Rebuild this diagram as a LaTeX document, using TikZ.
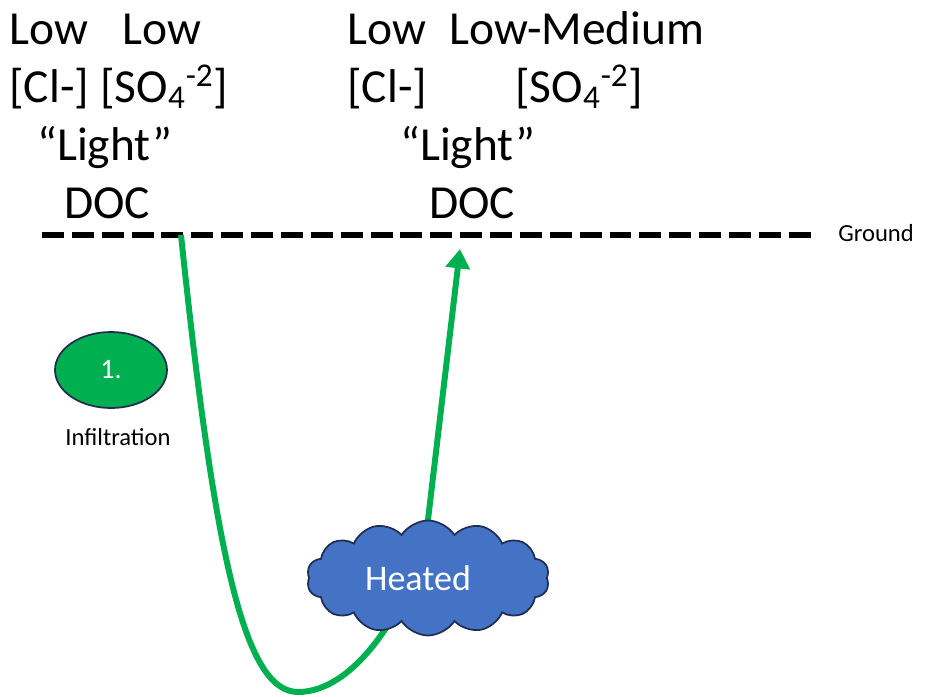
\documentclass[tikz,border=0pt]{standalone}
\usepackage{fontspec}
\setmainfont{Carlito}
\usetikzlibrary{positioning,calc,arrows.meta,shapes.geometric,shapes.symbols}
\definecolor{flowgreen}{RGB}{0,176,80}
\definecolor{heatblue}{RGB}{68,114,196}
\definecolor{edgenavy}{RGB}{32,46,84}

\begin{document}
\begin{tikzpicture}[x=0.02cm, y=-0.02cm,
    chem/.style={font=\fontsize{27}{32}\selectfont, inner sep=0pt, anchor=base west},
    small/.style={font=\fontsize{14}{17}\selectfont, inner sep=0pt},
    ground/.style={line width=3.2pt, dash pattern=on 12.5pt off 4.5pt},
    flow/.style={flowgreen, line width=3.4pt},
    stage/.style={ellipse, draw=edgenavy, line width=1pt, fill=flowgreen,
      minimum width=2.24cm, minimum height=1.52cm, inner sep=0pt,
      text=white, font=\fontsize{16}{19}\selectfont},
    heat/.style={cloud, cloud puffs=14, cloud puff arc=115, cloud ignores aspect,
      draw=edgenavy, line width=1pt, fill=heatblue,
      minimum width=4.85cm, minimum height=2.3cm},
    heattext/.style={text=white, font=\fontsize{20.5}{24}\selectfont, inner sep=0pt}
  ]
  \useasboundingbox (0,0) rectangle (925,696);
  % ---------------- recharge side ----------------
  \node[chem] (lowClA) at (9,45) {Low};
  \node[chem] (lowSOA) at (122,45) {Low};
  \node[chem] (clA) at (9,102) {[Cl-]};
  \node[chem] (soA) at (100,102) {[SO\textsubscript{4}\textsuperscript{-2}]};
  \node[chem] (lightA) at (37,160) {“Light”};
  \node[chem] (docA) at (64,218) {DOC};
  % ---------------- discharge side ----------------
  \node[chem] (lowClB) at (347,45) {Low};
  \node[chem] (lowSOB) at (449,45) {Low-Medium};
  \node[chem] (clB) at (347,102) {[Cl-]};
  \node[chem] (soB) at (515,102) {[SO\textsubscript{4}\textsuperscript{-2}]};
  \node[chem] (lightB) at (400,160) {“Light”};
  \node[chem] (docB) at (429,218) {DOC};
  % ---------------- ground surface ----------------
  \coordinate (gl) at (42,235);
  \coordinate (gr) at (818,235);
  \draw[ground] (gl) -- (gr);
  \node[small, anchor=west] (grd) at (838,233) {Ground};
  % ---------------- flow path ----------------
  \coordinate (sink) at (181,235);
  \coordinate (spring) at (460,249);
  \draw[flow, -{Triangle[length=11pt, width=13.5pt]}]
    (sink) .. controls (215,560) and (245,692) .. (298,692)
    .. controls (355,692) and (405,610) .. (425,545) -- (spring);
  \node[heat] (warm) at (428,578) {};
  \node[heattext] (warmtxt) at ($(warm.center)+(-10,0)$) {Heated};
  % ---------------- step marker ----------------
  \node[stage] (one) at (111,370) {1.};
  \node[small] (infil) at (118,437) {Infiltration};
\end{tikzpicture}
\end{document}
